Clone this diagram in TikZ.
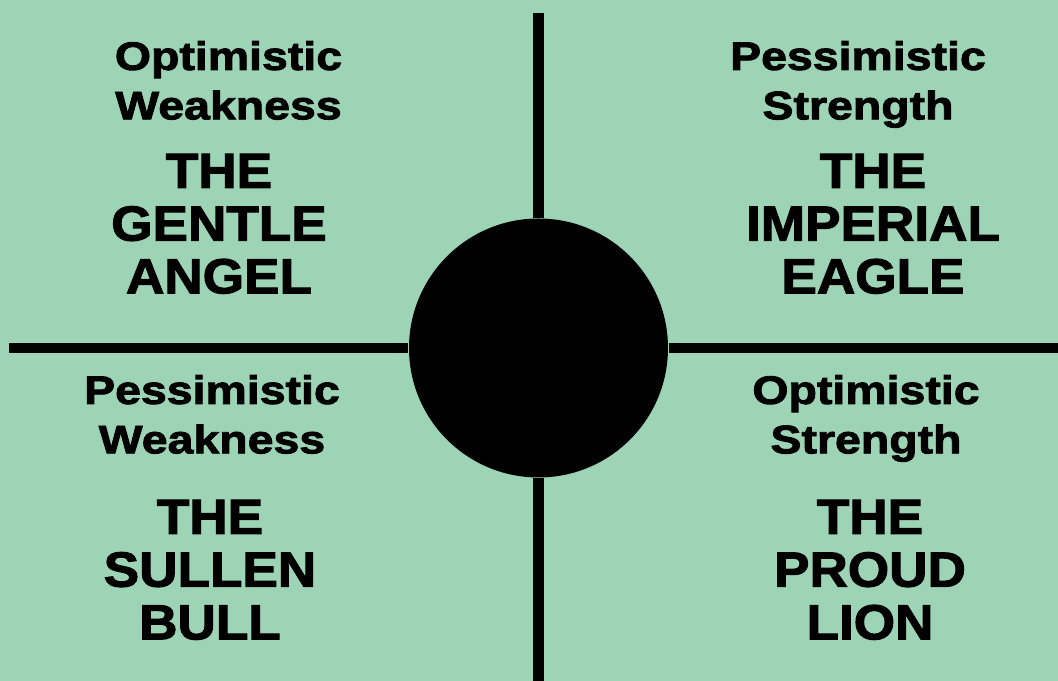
\documentclass[tikz,border=0pt]{standalone}
\usepackage{fontspec}
\usetikzlibrary{positioning}
\newfontfamily\moodfont[FakeStretch=1.17,FakeBold=2.2]{Liberation Sans}
\newfontfamily\beastfont[FakeStretch=1.08,FakeBold=2.2]{Liberation Sans}
\definecolor{sage}{RGB}{157,212,182}
\tikzset{
  mood/.style={font=\moodfont\bfseries\fontsize{11.3}{14.05}\selectfont,
    align=center,anchor=base,inner sep=0pt},
  beast/.style={font=\beastfont\bfseries\fontsize{14}{15}\selectfont,
    align=center,anchor=base,inner sep=0pt},
  axis/.style={draw=black,line width=3pt},
  hub/.style={circle,fill=black,minimum size=2.59cm,inner sep=0pt},
}

\begin{document}
\begin{tikzpicture}
  \useasboundingbox (0,0) rectangle (10.58,6.81);
  \fill[sage] (0,0) rectangle (10.58,6.81);
  % axes and centre
  \node[hub] (hub) at (5.385,3.33) {};
  \coordinate (n) at (5.385,6.683);
  \coordinate (s) at (5.385,0);
  \coordinate (w) at (0.093,3.33);
  \coordinate (e) at (10.58,3.33);
  \draw[axis] (n) -- (hub.north);
  \draw[axis] (hub.south) -- (s);
  \draw[axis] (w) -- (hub.west);
  \draw[axis] (hub.east) -- (e);
  % quadrants (anchored on the last line)
  \node[mood] (tl mood) at (2.285,5.617) {Optimistic\\Weakness};
  \node[beast] (tl beast) at (2.19,3.877) {THE\\GENTLE\\ANGEL};
  \node[mood] (tr mood) at (8.58,5.617) {Pessimistic\\Strength};
  \node[beast] (tr beast) at (8.73,3.877) {THE\\IMPERIAL\\EAGLE};
  \node[mood] (bl mood) at (2.12,2.277) {Pessimistic\\Weakness};
  \node[beast] (bl beast) at (2.10,0.417) {THE\\SULLEN\\BULL};
  \node[mood] (br mood) at (8.66,2.277) {Optimistic\\Strength};
  \node[beast] (br beast) at (8.70,0.417) {THE\\PROUD\\LION};
\end{tikzpicture}
\end{document}
